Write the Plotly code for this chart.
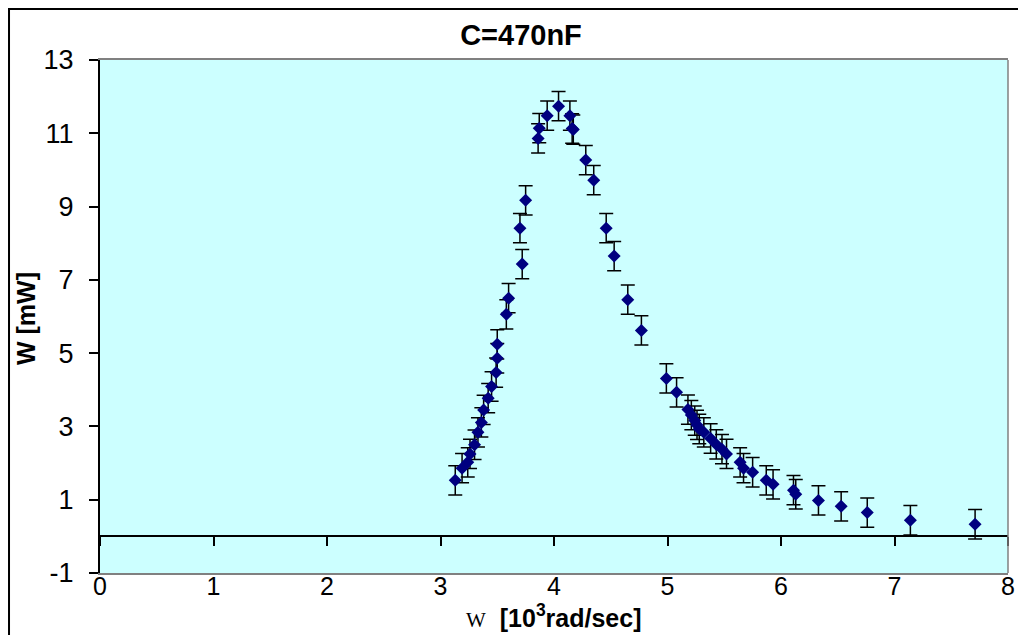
import plotly.graph_objects as go

# Data
omega = [3.13, 3.19, 3.24, 3.26, 3.30, 3.33, 3.36, 3.38, 3.42, 3.45, 3.49, 3.50, 3.50,
         3.58, 3.60, 3.70, 3.72, 3.75, 3.86, 3.87, 3.94, 4.04, 4.14, 4.16, 4.17, 4.28,
         4.35, 4.46, 4.53, 4.65, 4.77, 4.99, 5.08, 5.18, 5.21, 5.24, 5.26, 5.28, 5.32,
         5.38, 5.43, 5.48, 5.52, 5.64, 5.67, 5.75, 5.87, 5.93, 6.11, 6.13, 6.33, 6.53,
         6.76, 7.14, 7.71]
power = [1.53, 1.86, 2.02, 2.25, 2.50, 2.84, 3.11, 3.45, 3.77, 4.09, 4.47, 4.86, 5.24,
         6.06, 6.50, 8.41, 7.43, 9.17, 10.86, 11.14, 11.48, 11.74, 11.48, 11.13, 11.10, 10.27,
         9.72, 8.41, 7.65, 6.46, 5.62, 4.31, 3.93, 3.46, 3.31, 3.16, 3.04, 2.93, 2.84,
         2.67, 2.51, 2.38, 2.25, 2.02, 1.86, 1.75, 1.53, 1.42, 1.26, 1.15, 0.98, 0.82,
         0.65, 0.44, 0.33]
power_err = [0.4] * len(power)

x_ticks = [0, 1, 2, 3, 4, 5, 6, 7, 8]
x_tick_labels = ["0", "1", "2", "3", "4", "5", "6", "7", "8"]
y_ticks = [-1, 1, 3, 5, 7, 9, 11, 13]
y_tick_labels = ["-1", "1", "3", "5", "7", "9", "11", "13"]
x_range = [0, 8]
y_range = [-1, 13]

FONT = "Arial, Liberation Sans, sans-serif"
SERIF = "Times New Roman, Liberation Serif, serif"

fig = go.Figure()
fig.add_trace(go.Scatter(
    x=omega, y=power, mode="markers",
    marker=dict(symbol="diamond", size=10, color="#000080", line=dict(width=0)),
    error_y=dict(type="data", array=power_err, visible=True,
                 color="black", thickness=1.5, width=7),
    showlegend=False, hoverinfo="x+y",
))
# invisible trace on the zero-line axis so it is drawn
fig.add_trace(go.Scatter(x=[x_range[0]], y=[0], xaxis="x2", yaxis="y",
                         mode="markers", marker=dict(opacity=0),
                         showlegend=False, hoverinfo="skip"))

fig.update_layout(
    width=1026, height=635,
    margin=dict(l=92, r=26, t=52, b=70),
    paper_bgcolor="white",
    plot_bgcolor="#CCFFFF",
    font=dict(family=FONT, color="black"),
    title=dict(text="<b>C=470nF</b>", x=0.5, xref="container", xanchor="center",
               y=0.957, yref="container", yanchor="middle",
               font=dict(size=29, family=FONT, color="black")),
    xaxis=dict(range=x_range, tickmode="array", tickvals=x_ticks, ticktext=x_tick_labels,
               ticks="", showgrid=False, zeroline=False,
               showline=True, linecolor="#808080", linewidth=1.5, mirror=True,
               ticklabelstandoff=-10,
               tickfont=dict(size=25, family=FONT)),
    xaxis2=dict(range=x_range, overlaying="x", anchor="free", position=1/14,
                tickmode="array", tickvals=x_ticks, ticks="outside", ticklen=9,
                tickwidth=1.5, tickcolor="black",
                showticklabels=False, showgrid=False, zeroline=False,
                showline=True, linecolor="black", linewidth=1.5),
    yaxis=dict(range=y_range, tickmode="array", tickvals=y_ticks, ticktext=y_tick_labels,
               ticks="outside", ticklen=9, tickwidth=1.5, tickcolor="black",
               showgrid=False, zeroline=False,
               showline=True, linecolor="black", linewidth=2,
               ticklabelstandoff=10,
               tickfont=dict(size=27, family=FONT)),
    shapes=[
        dict(type="line", xref="paper", yref="paper", x0=1.0, x1=1.0, y0=0, y1=1,
             line=dict(color="#808080", width=1.5), layer="above"),
        dict(type="rect", xref="paper", yref="paper", x0=-0.1002, x1=1.2,
             y0=-0.3, y1=1.0994, line=dict(color="black", width=2), layer="below",
             fillcolor="rgba(0,0,0,0)"),
    ],
    annotations=[
        dict(text="<b>W [mW]</b>", xref="paper", yref="paper", x=-0.0815, y=0.497,
             textangle=-90, showarrow=False, xanchor="center", yanchor="middle",
             font=dict(size=25, family=FONT, color="black")),
        dict(text=f"<span style='font-family:{SERIF};font-size:21px'>W</span>  <b>[10<sup>3</sup>rad/sec]</b>",
             xref="paper", yref="paper", x=0.5, y=-0.083,
             showarrow=False, xanchor="center", yanchor="middle",
             font=dict(size=25, family=FONT, color="black")),
    ],
)

fig.write_html("out.html")
